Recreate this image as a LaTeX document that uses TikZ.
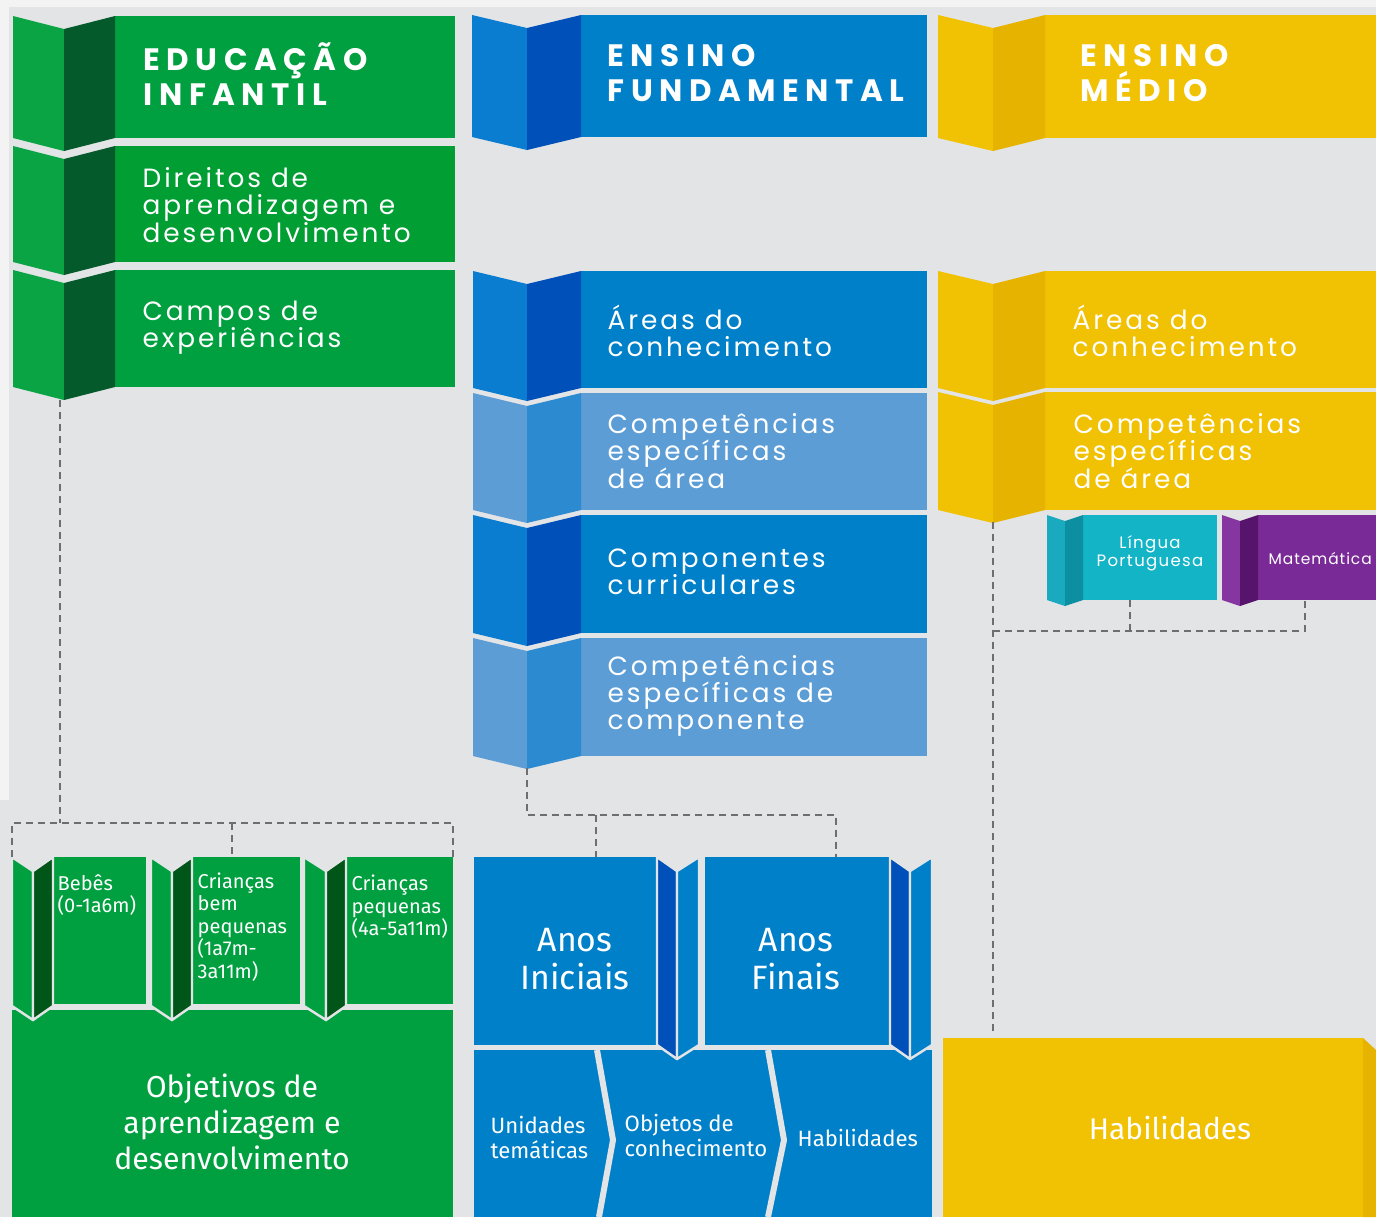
\documentclass[tikz,border=0pt]{standalone}
\usepackage{fontspec}
\usepackage[]{xcolor}
\setmainfont{Poppins}
\newfontfamily\lowfont{Fira Sans}
\usetikzlibrary{calc}

\definecolor{bggray}{HTML}{E3E4E6}
\definecolor{bgwhite}{HTML}{F3F3F4}
\definecolor{dashgray}{HTML}{6E6E70}
\definecolor{green}{HTML}{00A040}
\definecolor{greenB}{HTML}{009E33}
\definecolor{greenL}{HTML}{0AA444}
\definecolor{greenD}{HTML}{045A2A}
\definecolor{greenDD}{HTML}{005518}
\definecolor{blue}{HTML}{0080C9}
\definecolor{blueL}{HTML}{0B7DD0}
\definecolor{blueD}{HTML}{0050B9}
\definecolor{sky}{HTML}{5C9DD6}
\definecolor{skyD}{HTML}{2C8AD1}
\definecolor{yellow}{HTML}{F1C103}
\definecolor{yellowD}{HTML}{E5B300}
\definecolor{teal}{HTML}{14B4C7}
\definecolor{tealL}{HTML}{1AAAC0}
\definecolor{tealD}{HTML}{0C8FA1}
\definecolor{purple}{HTML}{7A2A96}
\definecolor{purpleL}{HTML}{8636A0}
\definecolor{purpleD}{HTML}{57146D}

\begin{document}
\setlength{\lineskiplimit}{-50pt}
\begin{tikzpicture}[x=0.01cm, y=-0.01cm,
	lbl/.style={text=white, inner sep=0pt, anchor=west, align=left},
	headtext/.style={lbl, font=\fontsize{8.8}{9.9}\selectfont\bfseries\addfontfeature{LetterSpace=21}},
	bodytext/.style={lbl, font=\fontsize{7.5}{7.7}\selectfont\addfontfeature{LetterSpace=11}},
	tinytext/.style={lbl, font=\fontsize{4.7}{5}\selectfont\addfontfeature{LetterSpace=8}},
	lowtext/.style={lbl, font=\lowfont\fontsize{5.7}{6.4}\selectfont},
	anostext/.style={lbl, anchor=center, align=center, font=\lowfont\fontsize{9.6}{10.8}\selectfont},
	dashline/.style={draw=dashgray, line width=0.7pt, dash pattern=on 2pt off 1.4pt},
	rim/.style={draw=bggray, line width=0.7pt, line join=round}]
	\def\dep{13}
	% fold: x left, x mid, x right, y top, y bottom, colour left, colour right
	\def\fold#1#2#3#4#5#6#7{
		\fill[#6] (#1,#4) -- (#2,#4+\dep) -- (#2,#5+\dep) -- (#1,#5) -- cycle;
		\fill[#7] (#2,#4+\dep) -- (#3,#4) -- (#3,#5) -- (#2,#5+\dep) -- cycle;
	}
	\def\rimfold#1#2#3#4#5#6#7{
		\filldraw[rim, fill=#6] (#1,#4) -- (#2,#4+\dep) -- (#2,#5+\dep) -- (#1,#5) -- cycle;
		\filldraw[rim, fill=#7] (#2,#4+\dep) -- (#3,#4) -- (#3,#5) -- (#2,#5+\dep) -- cycle;
	}

	\useasboundingbox (0,0) rectangle (1376,1217);
	\fill[bggray] (0,0) rectangle (1376,1217);
	\fill[bgwhite] (0,0) rectangle (1376,7);
	\fill[bgwhite] (0,0) rectangle (9,800);

	% educacao infantil
	\fill[green] (115,16) rectangle (455,138);
	\fold{13}{64}{115}{16}{138}{greenL}{greenD}
	\node[headtext] (ei) at (143,74) {EDUCAÇÃO\\INFANTIL};
	\fill[greenB] (115,146) rectangle (455,262);
	\fold{13}{64}{115}{146}{262}{greenL}{greenD}
	\node[bodytext] (direitos) at (142,205) {Direitos de\\aprendizagem e\\desenvolvimento};
	\fill[green] (115,270) rectangle (455,387);
	\fold{13}{64}{115}{270}{387}{greenL}{greenD}
	\node[bodytext] (campos) at (142,328) {Campos de\\experiências};

	% ensino fundamental
	\fill[blue] (581,15) rectangle (927,137);
	\fold{472}{527}{581}{15}{137}{blueL}{blueD}
	\node[headtext] (ef) at (607,73) {ENSINO\\FUNDAMENTAL};
	\fill[blue] (581,271) rectangle (927,388);
	\fold{473}{527}{581}{271}{388}{blueL}{blueD}
	\node[bodytext] (areasF) at (607,331) {Áreas do\\conhecimento};
	\fill[sky] (581,393) rectangle (927,510);
	\fold{473}{527}{581}{393}{510}{sky}{skyD}
	\node[bodytext] (compF) at (607,451) {Competências\\específicas\\de área};
	\fill[blue] (581,515) rectangle (927,633);
	\fold{473}{527}{581}{515}{633}{blueL}{blueD}
	\node[bodytext] (compon) at (607,572) {Componentes\\curriculares};
	\fill[sky] (581,638) rectangle (927,756);
	\fold{473}{527}{581}{638}{756}{sky}{skyD}
	\node[bodytext] (compC) at (607,696) {Competências\\específicas de\\componente};

	% ensino medio
	\fill[yellow] (1045,15) rectangle (1376,138);
	\fold{938}{993}{1045}{15}{138}{yellow}{yellowD}
	\node[headtext] (em) at (1080,73) {ENSINO\\MÉDIO};
	\fill[yellow] (1045,271) rectangle (1376,388);
	\fold{938}{993}{1045}{271}{388}{yellow}{yellowD}
	\node[bodytext] (areasM) at (1072,331) {Áreas do\\conhecimento};
	\fill[yellow] (1045,392) rectangle (1376,510);
	\fold{938}{993}{1045}{392}{510}{yellow}{yellowD}
	\node[bodytext] (compM) at (1073,451) {Competências\\específicas\\de área};

	\def\dep{6}
	\fill[teal] (1083,515) rectangle (1217,600);
	\fold{1047}{1065}{1083}{515}{600}{tealL}{tealD}
	\node[tinytext, anchor=center, align=center] (lingua) at (1150,553) {Língua\\Portuguesa};
	\fill[purple] (1258,515) rectangle (1376,600);
	\fold{1222}{1240}{1258}{515}{600}{purpleL}{purpleD}
	\node[tinytext, font=\fontsize{4.4}{5}\selectfont\addfontfeature{LetterSpace=6}] (mat) at (1268,558) {Matemática};

	% lower green
	\fill[green] (12,1010) rectangle (453,1217);
	\node[anostext, font=\lowfont\fontsize{8.6}{10.2}\selectfont] (objetivos) at (232,1122) {Objetivos de\\aprendizagem e\\desenvolvimento};
	\def\dep{14}
	\foreach \xa/\xb/\xc/\xd in {12/33/53/146, 151/172/192/300, 304/326/346/453}{
		\fill[green] (\xc,857) rectangle (\xd,1004);
		\rimfold{\xa}{\xb}{\xc}{857}{1006}{green}{greenDD}
	}
	\node[lowtext] (bebes) at (57,895) {Bebês\\(0-1a6m)};
	\node[lowtext] (bem) at (197,927) {Crianças\\bem\\pequenas\\(1a7m-\\3a11m)};
	\node[lowtext] (peq) at (351,907) {Crianças\\pequenas\\(4a-5a11m)};

	% lower blue
	\fill[blue] (474,1050) rectangle (932,1217);
	\draw[bggray, line width=1.7pt, line join=round] (597,1050) -- (613,1140) -- (599,1217);
	\draw[bggray, line width=1.7pt, line join=round] (768,1050) -- (784,1140) -- (768,1217);
	\fill[blue] (474,857) rectangle (657,1045);
	\rimfold{657}{677}{699}{857}{1045}{blueD}{blue}
	\fill[blue] (705,857) rectangle (890,1045);
	\rimfold{890}{910}{932}{857}{1045}{blueD}{blue}
	\node[anostext] (iniciais) at (575,959) {Anos\\Iniciais};
	\node[anostext] (finais) at (796,959) {Anos\\Finais};
	\node[lowtext, font=\lowfont\fontsize{6.3}{7.1}\selectfont] (unid) at (490,1137) {Unidades\\temáticas};
	\node[lowtext, font=\lowfont\fontsize{6.3}{7.1}\selectfont] (obj) at (624,1135) {Objetos de\\conhecimento};
	\node[lowtext, font=\lowfont\fontsize{6.3}{7.1}\selectfont] (habF) at (797,1138) {Habilidades};

	% lower yellow
	\fill[yellow] (943,1038) rectangle (1363,1217);
	\fill[yellowD] (1363,1038) -- (1376,1050) -- (1376,1217) -- (1363,1217) -- cycle;
	\node[anostext, font=\lowfont\fontsize{8.5}{9}\selectfont] (habM) at (1170,1128) {Habilidades};

	% dashed connectors
	\coordinate (gTop) at (60,400);
	\coordinate (gMid) at (60,823);
	\coordinate (gL) at (12,823);
	\coordinate (gC) at (232,823);
	\coordinate (gR) at (453,823);
	\draw[dashline] (gTop) -- (gMid);
	\draw[dashline] (12,857) -- (gL) -- (gR) -- (453,857);
	\draw[dashline] (gC) -- (232,857);

	\coordinate (bTop) at (527,768);
	\coordinate (bCorner) at (527,815);
	\coordinate (bI) at (596,815);
	\coordinate (bF) at (836,815);
	\draw[dashline] (bTop) -- (bCorner) -- (bF) -- (836,857);
	\draw[dashline] (bI) -- (596,857);

	\coordinate (yTop) at (993,522);
	\coordinate (yBot) at (993,1034);
	\coordinate (yJ) at (993,631);
	\coordinate (yL) at (1130,631);
	\coordinate (yR) at (1305,631);
	\draw[dashline] (yTop) -- (yBot);
	\draw[dashline] (yJ) -- (yR) -- (1305,600);
	\draw[dashline] (yL) -- (1130,600);
\end{tikzpicture}
\end{document}
